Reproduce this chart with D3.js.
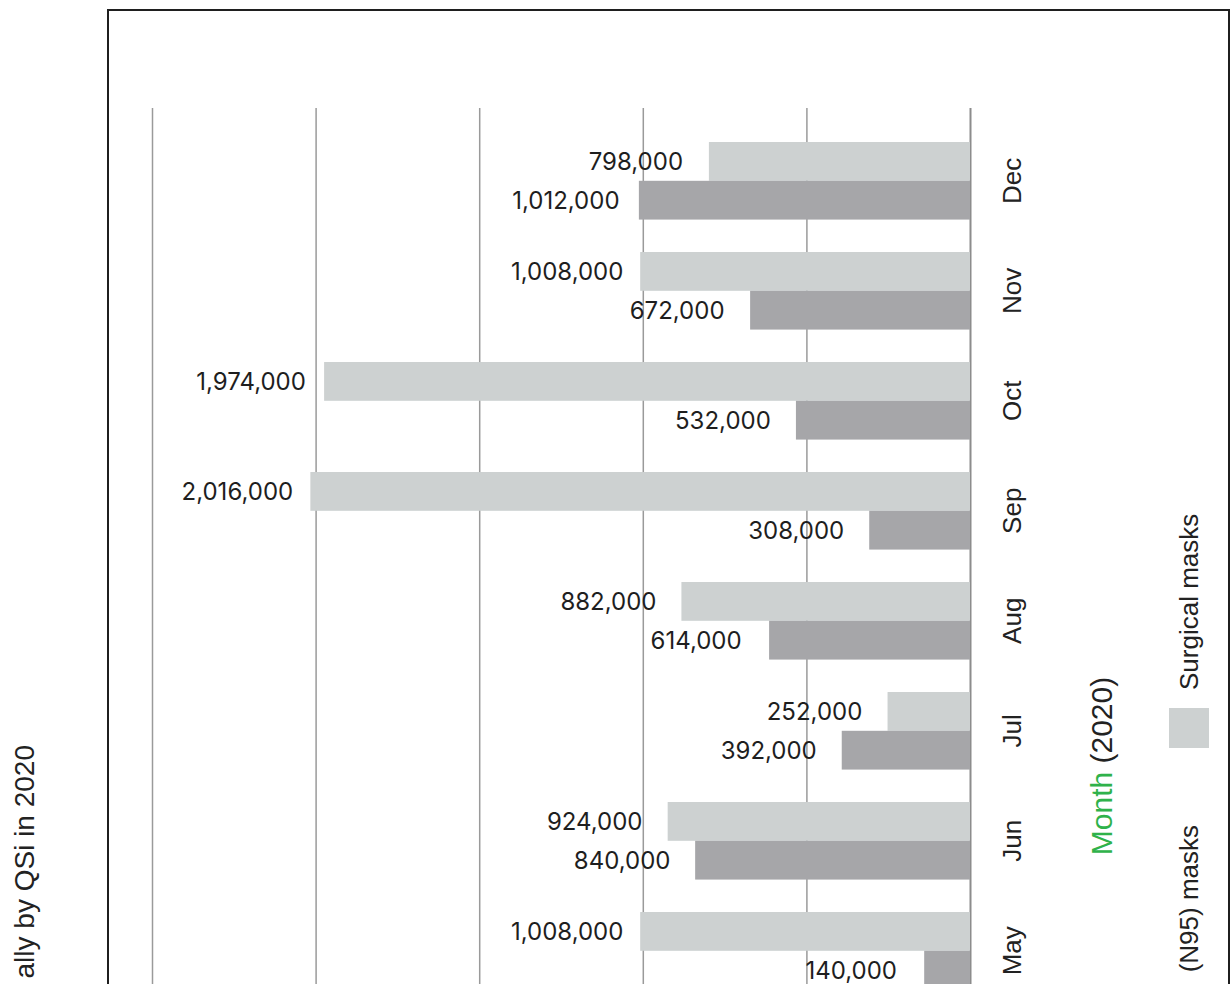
<!DOCTYPE html>
<html>
<head>
<meta charset="utf-8">
<script src="https://cdn.jsdelivr.net/npm/d3@7"></script>
<style>
  html, body { margin: 0; padding: 0; background: #fff; overflow: hidden; }
  svg { display: block; }
</style>
</head>
<body>
<svg id="chart" width="1230" height="984"></svg>
<script>
// ---- data ----
const months = ["Dec", "Nov", "Oct", "Sep", "Aug", "Jul", "Jun", "May"];
const surgicalMasks = [798000, 1008000, 1974000, 2016000, 882000, 252000, 924000, 1008000];
const n95Masks = [1012000, 672000, 532000, 308000, 614000, 392000, 840000, 140000];
const gridValues = [0, 500000, 1000000, 1500000, 2000000, 2500000];
const seriesKeys = ["surgical", "n95"];
const seriesLabels = ["Surgical masks", "(N95) masks"];
const titleText = "ally by QSi in 2020";
const axisTitleA = "Month";
const axisTitleB = " (2020)";

// ---- setup ----
const svg = d3.select("#chart");
const colors = { surgical: "#cdd1d1", n95: "#a6a6a9" };
const labelFont = "Inter, 'Noto Sans', sans-serif";
const textFont = "'Liberation Sans', Arial, sans-serif";

const rows = months.map((m, i) => ({ month: m, surgical: surgicalMasks[i], n95: n95Masks[i] }));

const x = d3.scaleLinear().domain([0, 2500000]).range([970, 152]);
const y = d3.scaleBand().domain(months).range([125.8, 1005.8]).paddingInner(0.295).paddingOuter(0.1475);
const yi = d3.scaleBand().domain(seriesKeys).range([0, y.bandwidth()]);

// frame
svg.append("rect")
  .attr("x", 108).attr("y", 10).attr("width", 1121).attr("height", 1100)
  .attr("fill", "none").attr("stroke", "#1f1f1f").attr("stroke-width", 2);

// gridlines via axis
const grid = svg.append("g")
  .attr("transform", "translate(0,108)")
  .call(d3.axisBottom(x).tickValues(gridValues).tickSize(900).tickFormat(""));
grid.select(".domain").remove();
grid.selectAll(".tick line").attr("stroke", "#9a9a9a").attr("stroke-width", 1.5);
grid.selectAll(".tick").filter(d => d === 0).select("line").attr("stroke", "#8c8c8c").attr("stroke-width", 2);

// bars
const groups = svg.append("g").selectAll("g")
  .data(rows).join("g")
  .attr("transform", d => `translate(0,${y(d.month)})`);

groups.selectAll("rect")
  .data(d => seriesKeys.map(k => ({ key: k, value: d[k] })))
  .join("rect")
  .attr("x", d => x(d.value))
  .attr("y", d => yi(d.key))
  .attr("width", d => x(0) - x(d.value))
  .attr("height", yi.bandwidth())
  .attr("fill", d => colors[d.key]);

// value labels
const fmt = d3.format(",");
groups.selectAll("text")
  .data(d => seriesKeys.map(k => ({ key: k, value: d[k] })))
  .join("text")
  .attr("x", d => x(d.value) - 73)
  .attr("y", d => yi(d.key) + yi.bandwidth() / 2)
  .attr("text-anchor", "middle")
  .attr("dominant-baseline", "central")
  .attr("font-family", labelFont)
  .attr("font-size", 24)
  .attr("fill", "#1e1e1e")
  .text(d => fmt(d.value));

// month labels
svg.append("g").selectAll("text")
  .data(months).join("text")
  .attr("transform", m => `translate(1012,${y(m) + y.bandwidth() / 2}) rotate(-90)`)
  .attr("text-anchor", "middle")
  .attr("dominant-baseline", "central")
  .attr("font-family", textFont)
  .attr("font-size", 26)
  .attr("fill", "#222")
  .text(m => m);

// axis title
const at = svg.append("text")
  .attr("transform", "translate(1101,766) rotate(-90)")
  .attr("text-anchor", "middle")
  .attr("dominant-baseline", "central")
  .attr("font-family", textFont)
  .attr("font-size", 30);
at.append("tspan").attr("fill", "#2fb24a").text(axisTitleA);
at.append("tspan").attr("fill", "#222").text(axisTitleB);

// legend
svg.append("rect").attr("x", 1169).attr("y", 708).attr("width", 40).attr("height", 40).attr("fill", colors.surgical);
svg.append("text")
  .attr("transform", "translate(1189,690) rotate(-90)")
  .attr("text-anchor", "start").attr("dominant-baseline", "central")
  .attr("font-family", textFont).attr("font-size", 26).attr("fill", "#222")
  .text(seriesLabels[0]);
svg.append("text")
  .attr("transform", "translate(1189,825) rotate(-90)")
  .attr("text-anchor", "end").attr("dominant-baseline", "central")
  .attr("font-family", textFont).attr("font-size", 26).attr("fill", "#222")
  .text(seriesLabels[1]);
svg.append("rect").attr("x", 1169).attr("y", 992).attr("width", 40).attr("height", 40).attr("fill", colors.n95);

// title (partially visible)
svg.append("text")
  .attr("transform", "translate(24,745) rotate(-90)")
  .attr("text-anchor", "end").attr("dominant-baseline", "central")
  .attr("font-family", textFont).attr("font-size", 28).attr("fill", "#222")
  .text(titleText);
</script>
</body>
</html>
